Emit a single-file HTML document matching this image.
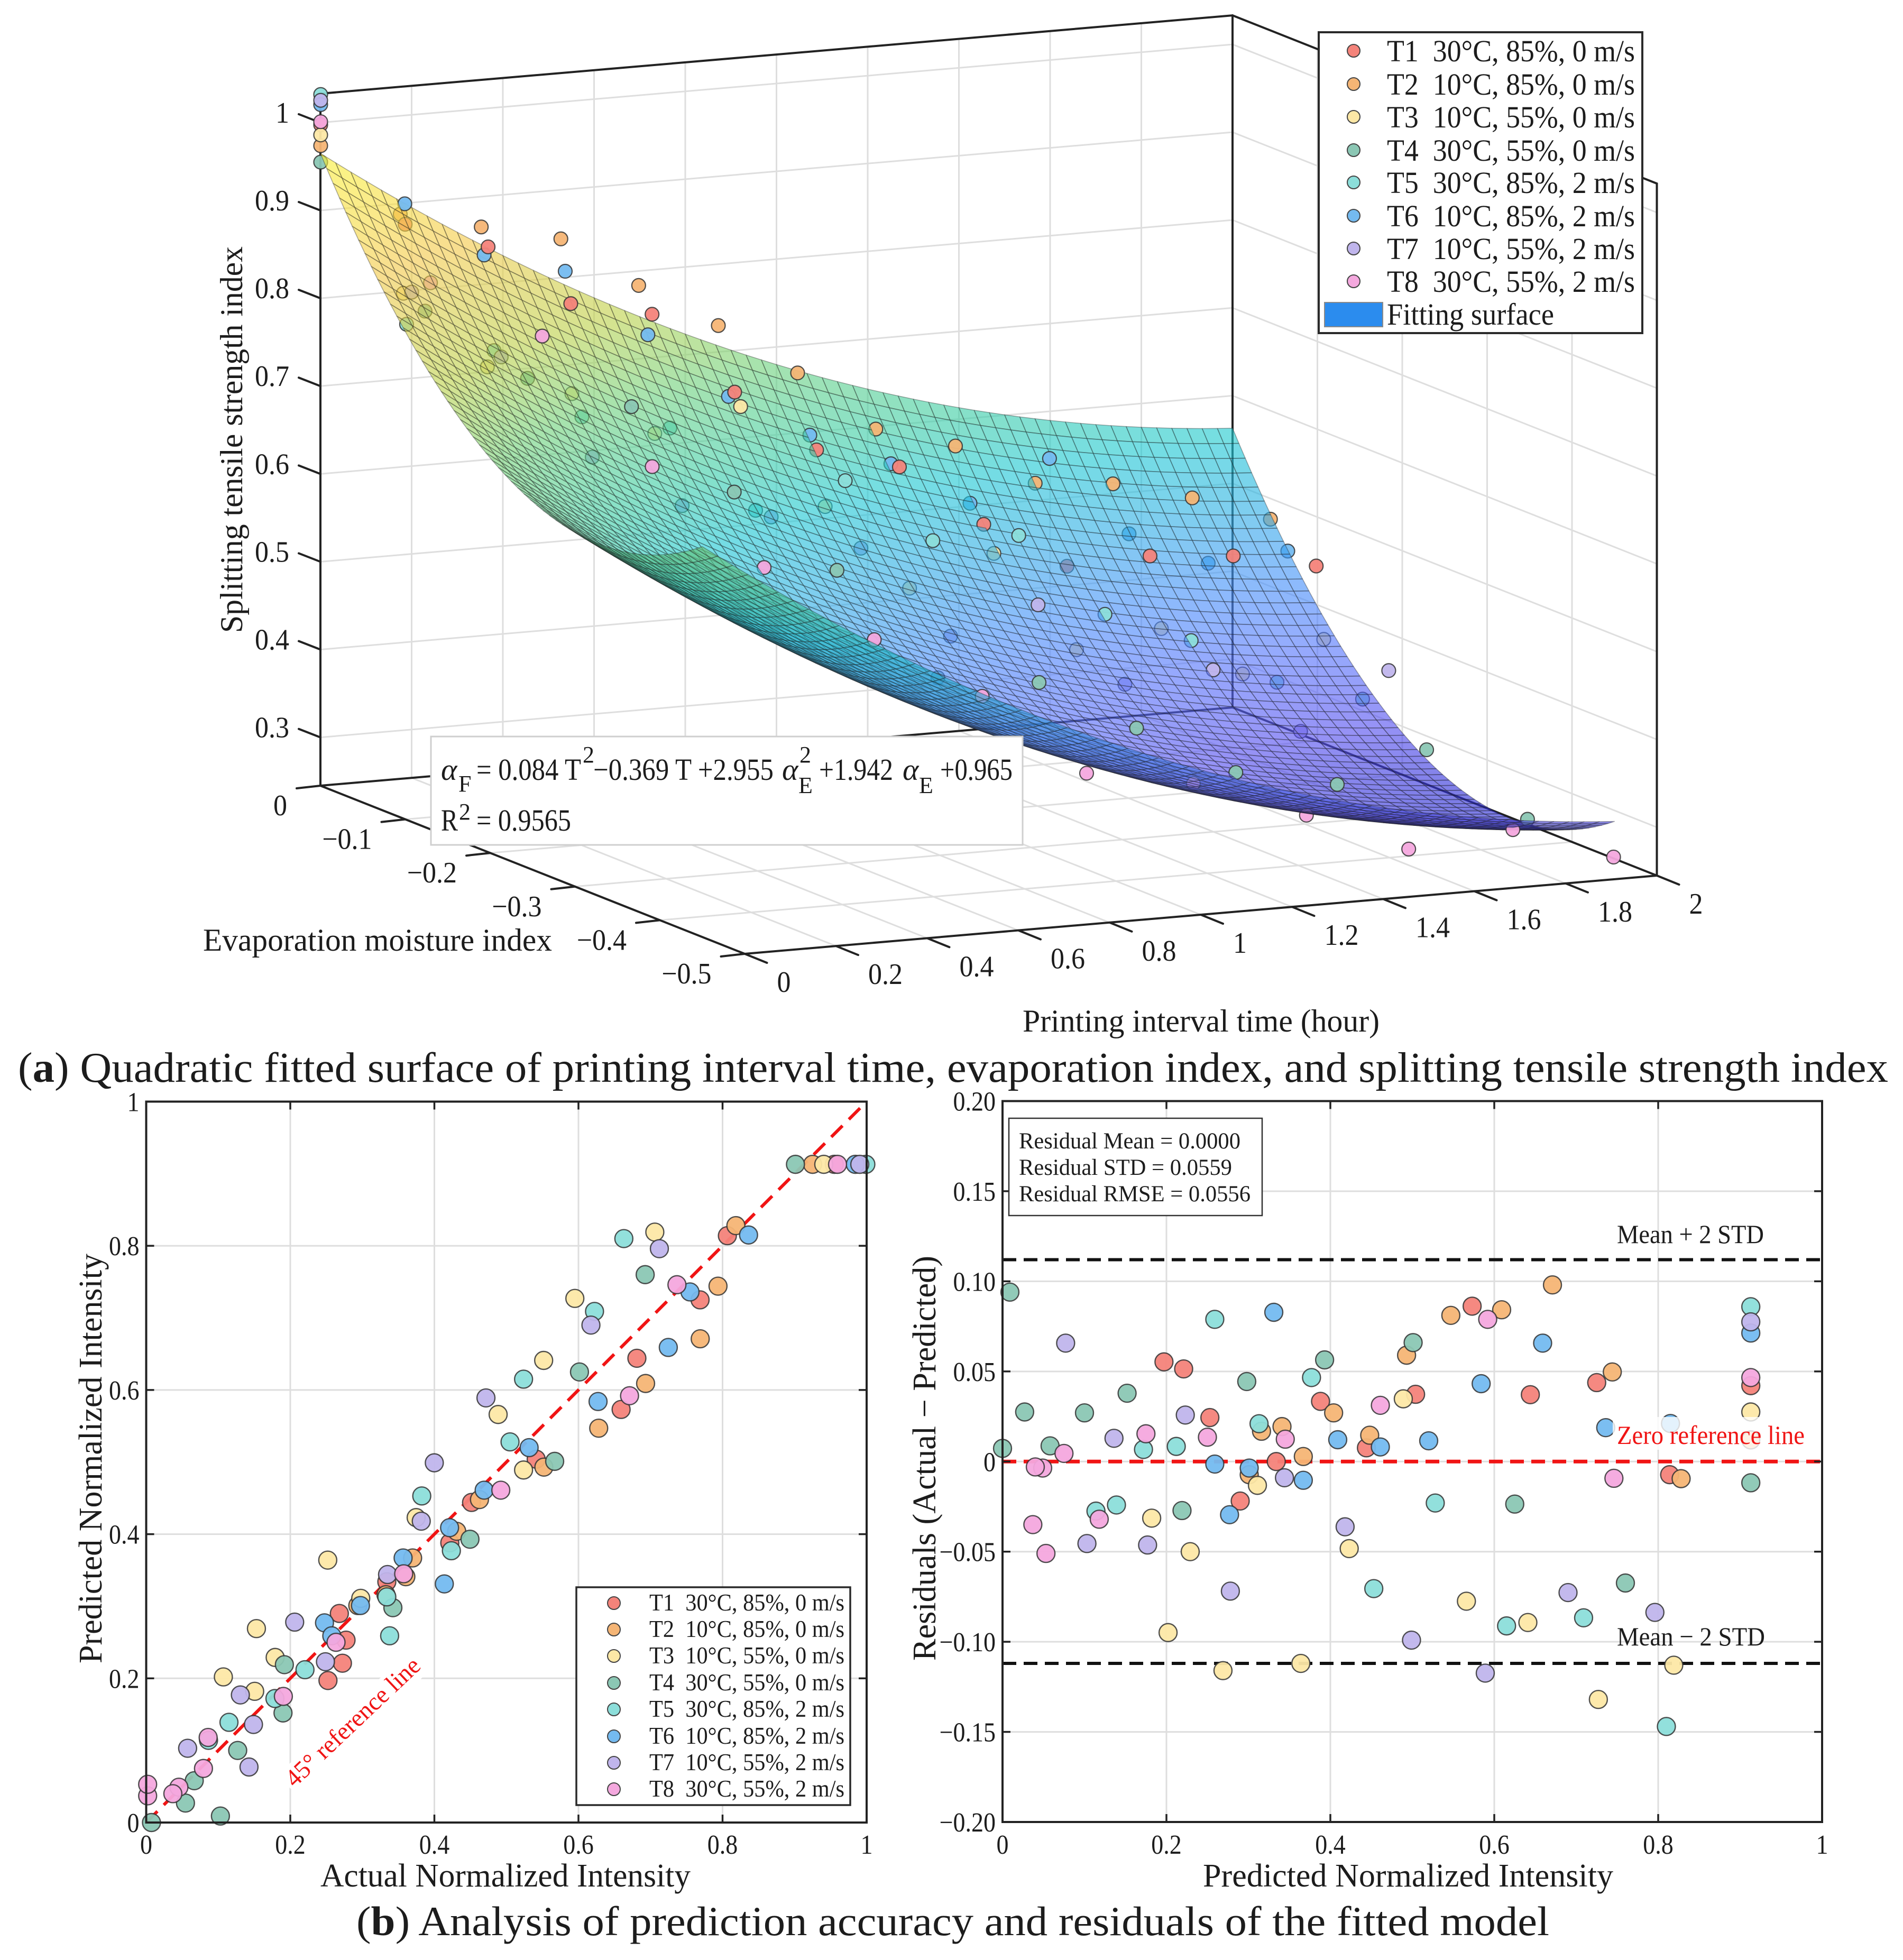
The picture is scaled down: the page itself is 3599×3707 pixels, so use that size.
<!DOCTYPE html>
<html lang="en">
<head>
<meta charset="utf-8">
<title>Quadratic fitted surface and residual analysis</title>
<style>
html,body{margin:0;padding:0;background:#fff;}
svg{display:block;font-family:"Liberation Serif","Times New Roman",serif;fill:#1c1c1c;}
</style>
</head>
<body>
<svg id="figure" xmlns="http://www.w3.org/2000/svg" width="3599" height="3707" viewBox="0 0 3599 3707">
  <rect x="0" y="0" width="3599" height="3707" fill="#fff"/>

  <g id="plot3d"></g>

  <g font-size="60">
    <text transform="translate(458,1197) rotate(-90)" textLength="731" lengthAdjust="spacingAndGlyphs">Splitting tensile strength index</text>
    <text x="384" y="1798" textLength="660" lengthAdjust="spacingAndGlyphs">Evaporation moisture index</text>
    <text x="1934" y="1951" textLength="675" lengthAdjust="spacingAndGlyphs">Printing interval time (hour)</text>
  </g>

  <g>
    <rect x="815" y="1393" width="1119" height="205" fill="#fff" stroke="#cfcfcf" stroke-width="3"/>
    <g font-size="58">
      <text x="834" y="1475" font-style="italic">α</text>
      <text x="867" y="1497" font-size="44">F</text>
      <text x="901" y="1475" textLength="198" lengthAdjust="spacingAndGlyphs">= 0.084 T</text>
      <text x="1102" y="1442" font-size="44">2</text>
      <text x="1122" y="1475" textLength="341" lengthAdjust="spacingAndGlyphs">−0.369 T +2.955</text>
      <text x="1479" y="1475" font-style="italic">α</text>
      <text x="1510" y="1500" font-size="44">E</text>
      <text x="1512" y="1442" font-size="44">2</text>
      <text x="1549" y="1475" textLength="140" lengthAdjust="spacingAndGlyphs">+1.942</text>
      <text x="1707" y="1475" font-style="italic">α</text>
      <text x="1738" y="1500" font-size="44">E</text>
      <text x="1778" y="1475" textLength="137" lengthAdjust="spacingAndGlyphs">+0.965</text>
      <text x="834" y="1571" textLength="32" lengthAdjust="spacingAndGlyphs">R</text>
      <text x="868" y="1550" font-size="44">2</text>
      <text x="901" y="1571" textLength="179" lengthAdjust="spacingAndGlyphs">= 0.9565</text>
    </g>
  </g>

  <g>
    <rect x="2494" y="61" width="612" height="569" fill="#fff" stroke="#2a2a2a" stroke-width="4"/>
    <g stroke="#444" stroke-width="2">
      <circle cx="2560" cy="96" r="12" fill="#f4837a"/>
      <circle cx="2560" cy="159" r="12" fill="#f5b575"/>
      <circle cx="2560" cy="221" r="12" fill="#fde8a6"/>
      <circle cx="2560" cy="284" r="12" fill="#8bc7b4"/>
      <circle cx="2560" cy="345" r="12" fill="#8cdeda"/>
      <circle cx="2560" cy="408" r="12" fill="#74baf0"/>
      <circle cx="2560" cy="470" r="12" fill="#c0b5ec"/>
      <circle cx="2560" cy="532" r="12" fill="#f4a8de"/>
    </g>
    <g font-size="58">
      <text x="2623" y="116" textLength="469" lengthAdjust="spacingAndGlyphs" xml:space="preserve">T1  30°C, 85%, 0 m/s</text>
      <text x="2623" y="179" textLength="469" lengthAdjust="spacingAndGlyphs" xml:space="preserve">T2  10°C, 85%, 0 m/s</text>
      <text x="2623" y="241" textLength="469" lengthAdjust="spacingAndGlyphs" xml:space="preserve">T3  10°C, 55%, 0 m/s</text>
      <text x="2623" y="304" textLength="469" lengthAdjust="spacingAndGlyphs" xml:space="preserve">T4  30°C, 55%, 0 m/s</text>
      <text x="2623" y="365" textLength="469" lengthAdjust="spacingAndGlyphs" xml:space="preserve">T5  30°C, 85%, 2 m/s</text>
      <text x="2623" y="428" textLength="469" lengthAdjust="spacingAndGlyphs" xml:space="preserve">T6  10°C, 85%, 2 m/s</text>
      <text x="2623" y="490" textLength="469" lengthAdjust="spacingAndGlyphs" xml:space="preserve">T7  10°C, 55%, 2 m/s</text>
      <text x="2623" y="552" textLength="469" lengthAdjust="spacingAndGlyphs" xml:space="preserve">T8  30°C, 55%, 2 m/s</text>
      <text x="2623" y="614" textLength="316" lengthAdjust="spacingAndGlyphs">Fitting surface</text>
    </g>
    <rect x="2505" y="572" width="110" height="46" fill="#2b8cee" stroke="#8a8a8a" stroke-width="2"/>
  </g>

  <text x="34" y="2046" font-size="80" textLength="3537" lengthAdjust="spacingAndGlyphs">(<tspan font-weight="bold">a</tspan>) Quadratic fitted surface of printing interval time, evaporation index, and splitting tensile strength index</text>

  <g id="plotB"></g>
  <g font-size="62">
    <text x="606" y="3558" textLength="700" lengthAdjust="spacingAndGlyphs" dy="10">Actual Normalized Intensity</text>
    <text transform="translate(192,3146) rotate(-90)" textLength="775" lengthAdjust="spacingAndGlyphs">Predicted Normalized Intensity</text>
  </g>
  <g transform="translate(557,3382) rotate(-43.4)">
    <rect x="-6" y="-40" width="344" height="54" fill="#fff"/>
    <text x="0" y="0" font-size="47" style="fill:#f01414" textLength="332" lengthAdjust="spacingAndGlyphs">45° reference line</text>
  </g>
  <g>
    <rect x="1090" y="3002" width="518" height="412" fill="#fff" stroke="#2a2a2a" stroke-width="3.5"/>
    <g stroke="#444" stroke-width="2">
      <circle cx="1161" cy="3032" r="12" fill="#f4837a"/>
      <circle cx="1161" cy="3082" r="12" fill="#f5b575"/>
      <circle cx="1161" cy="3132" r="12" fill="#fde8a6"/>
      <circle cx="1161" cy="3183" r="12" fill="#8bc7b4"/>
      <circle cx="1161" cy="3233" r="12" fill="#8cdeda"/>
      <circle cx="1161" cy="3284" r="12" fill="#74baf0"/>
      <circle cx="1161" cy="3334" r="12" fill="#c0b5ec"/>
      <circle cx="1161" cy="3384" r="12" fill="#f4a8de"/>
    </g>
    <g font-size="45">
      <text x="1228" y="3046" textLength="369" lengthAdjust="spacingAndGlyphs" xml:space="preserve">T1  30°C, 85%, 0 m/s</text>
      <text x="1228" y="3096" textLength="369" lengthAdjust="spacingAndGlyphs" xml:space="preserve">T2  10°C, 85%, 0 m/s</text>
      <text x="1228" y="3146" textLength="369" lengthAdjust="spacingAndGlyphs" xml:space="preserve">T3  10°C, 55%, 0 m/s</text>
      <text x="1228" y="3197" textLength="369" lengthAdjust="spacingAndGlyphs" xml:space="preserve">T4  30°C, 55%, 0 m/s</text>
      <text x="1228" y="3247" textLength="369" lengthAdjust="spacingAndGlyphs" xml:space="preserve">T5  30°C, 85%, 2 m/s</text>
      <text x="1228" y="3298" textLength="369" lengthAdjust="spacingAndGlyphs" xml:space="preserve">T6  10°C, 85%, 2 m/s</text>
      <text x="1228" y="3348" textLength="369" lengthAdjust="spacingAndGlyphs" xml:space="preserve">T7  10°C, 55%, 2 m/s</text>
      <text x="1228" y="3398" textLength="369" lengthAdjust="spacingAndGlyphs" xml:space="preserve">T8  30°C, 55%, 2 m/s</text>
    </g>
  </g>

  <g id="plotC"></g>
  <g font-size="62">
    <text x="2275" y="3568" textLength="776" lengthAdjust="spacingAndGlyphs">Predicted Normalized Intensity</text>
    <text transform="translate(1769,3141) rotate(-90)" textLength="766" lengthAdjust="spacingAndGlyphs">Residuals (Actual − Predicted)</text>
  </g>
  <g>
    <rect x="1908" y="2115" width="479" height="184" fill="#fff" stroke="#333" stroke-width="2.5"/>
    <g font-size="43">
      <text x="1927" y="2172" textLength="419" lengthAdjust="spacingAndGlyphs">Residual Mean = 0.0000</text>
      <text x="1927" y="2222" textLength="403" lengthAdjust="spacingAndGlyphs">Residual STD = 0.0559</text>
      <text x="1927" y="2272" textLength="438" lengthAdjust="spacingAndGlyphs">Residual RMSE = 0.0556</text>
    </g>
  </g>
  <text x="3058" y="2351" font-size="50" textLength="278" lengthAdjust="spacingAndGlyphs">Mean + 2 STD</text>
  <text x="3058" y="3112" font-size="50" textLength="280" lengthAdjust="spacingAndGlyphs">Mean − 2 STD</text>
  <rect x="3050" y="2680" width="370" height="62" fill="#fff" fill-opacity="0.8"/>
  <text x="3058" y="2731" font-size="50" style="fill:#f01414" textLength="355" lengthAdjust="spacingAndGlyphs">Zero reference line</text>

  <text x="674" y="3660" font-size="78" textLength="2256" lengthAdjust="spacingAndGlyphs">(<tspan font-weight="bold">b</tspan>) Analysis of prediction accuracy and residuals of the fitted model</text>
</svg>

<script>
// ---------- chart data ----------
const intervalHours = [0, 0.167, 0.333, 0.5, 0.667, 0.833, 1, 1.167, 1.333, 1.5, 1.667, 1.833, 2];
const seriesKeys = ['t1', 't2', 't3', 't4', 't5', 't6', 't7', 't8'];

const t1Pred = [0.913, 0.814, 0.725, 0.644, 0.573, 0.504, 0.444, 0.388, 0.334, 0.290, 0.253, 0.221, 0.197];
const t1Res = [0.0421, -0.0073, 0.0438, 0.0371, 0.0862, 0.0373, 0.0076, 0.0334, 0, -0.0219, 0.0244, 0.0514, 0.0553];
const t2Pred = [0.913, 0.828, 0.744, 0.671, 0.609, 0.547, 0.493, 0.448, 0.404, 0.367, 0.341, 0.316, 0.301];
const t2Res = [0.012, -0.0095, 0.0497, 0.098, 0.0842, 0.0811, 0.059, 0.0146, 0.027, 0.0028, 0.0194, 0.0168, -0.0073];
const t3Pred = [0.913, 0.819, 0.727, 0.641, 0.566, 0.489, 0.423, 0.364, 0.311, 0.269, 0.229, 0.202, 0.182];
const t3Res = [0.0275, -0.113, -0.132, -0.0893, -0.0775, 0.0348, -0.0483, -0.112, -0.0132, -0.116, -0.05, -0.0949, -0.0314];
const t4Pred = [0.913, 0.76, 0.625, 0.501, 0.393, 0.298, 0.219, 0.152, 0.1, 0.058, 0.027, 0.009, 0];
const t4Res = [-0.0118, -0.0674, -0.0236, 0.066, 0.0564, 0.0444, -0.0272, 0.0379, 0.027, 0.0087, 0.0275, 0.094, 0.0073];
const t5Pred = [0.913, 0.81, 0.709, 0.615, 0.528, 0.453, 0.377, 0.313, 0.259, 0.212, 0.172, 0.139, 0.114];
const t5Res = [0.0859, -0.147, -0.0867, -0.0912, -0.023, -0.0705, 0.0466, 0.021, 0.0789, 0.0084, 0.0067, -0.0241, -0.0275];
const t6Pred = [0.913, 0.815, 0.736, 0.659, 0.584, 0.52, 0.461, 0.409, 0.367, 0.331, 0.301, 0.277, 0.259];
const t6Res = [0.0713, 0.0211, 0.0188, 0.0657, 0.0432, 0.0115, 0.0081, 0.0121, -0.0104, 0.0828, -0.0036, -0.0295, -0.0014];
const t7Pred = [0.913, 0.796, 0.69, 0.589, 0.499, 0.418, 0.344, 0.278, 0.223, 0.177, 0.136, 0.103, 0.077];
const t7Res = [0.0775, -0.0837, -0.0727, -0.1174, -0.0991, -0.0362, -0.009, -0.0719, 0.0258, -0.0463, 0.0129, -0.0455, 0.0657];
const t8Pred = [0.913, 0.746, 0.592, 0.461, 0.345, 0.25, 0.175, 0.118, 0.075, 0.049, 0.037, 0.04, 0.053];
const t8Res = [0.0466, -0.0093, 0.0789, 0.0312, 0.0124, 0.0135, 0.0154, -0.032, 0.0045, -0.0036, -0.035, -0.003, -0.051];

// index within each series where evaporation has passed the fit's valley
const pastValleyFrom = [13, 13, 13, 12, 13, 13, 13, 9];

const fitCoefficients = [0.084, -0.369, 2.955, 1.942, 0.965];
const intensityRange = [0.245, 1.033];

const timeTicks = [0, 0.2, 0.4, 0.6, 0.8, 1, 1.2, 1.4, 1.6, 1.8, 2];
const timeTickLabels = ['0', '0.2', '0.4', '0.6', '0.8', '1', '1.2', '1.4', '1.6', '1.8', '2'];
const evapTicks = [0, -0.1, -0.2, -0.3, -0.4, -0.5];
const evapTickLabels = ['0', '−0.1', '−0.2', '−0.3', '−0.4', '−0.5'];
const strengthTicks = [0.3, 0.4, 0.5, 0.6, 0.7, 0.8, 0.9, 1];
const strengthTickLabels = ['0.3', '0.4', '0.5', '0.6', '0.7', '0.8', '0.9', '1'];
const unitTicks = [0, 0.2, 0.4, 0.6, 0.8, 1];
const unitTickLabels = ['0', '0.2', '0.4', '0.6', '0.8', '1'];
const residualTicks = [-0.2, -0.15, -0.1, -0.05, 0, 0.05, 0.1, 0.15, 0.2];
const residualTickLabels = ['−0.20', '−0.15', '−0.10', '−0.05', '0', '0.05', '0.10', '0.15', '0.20'];
const residualLimit = [0.112];

// ---------- styling ----------
const allPred = [t1Pred, t2Pred, t3Pred, t4Pred, t5Pred, t6Pred, t7Pred, t8Pred];
const allRes = [t1Res, t2Res, t3Res, t4Res, t5Res, t6Res, t7Res, t8Res];
const seriesFill = ['#f4837a', '#f5b575', '#fde8a6', '#8bc7b4', '#8cdeda', '#74baf0', '#c0b5ec', '#f4a8de'];
const NS = 'http://www.w3.org/2000/svg';
function add(tag, attrs, parent) {
  const el = document.createElementNS(NS, tag);
  for (const k in attrs) el.setAttribute(k, attrs[k]);
  parent.appendChild(el);
  return el;
}
function labelWidth(str, em) {
  let w = 0;
  for (const ch of str) w += ch === '.' ? 0.25 : ch === '−' ? 0.564 : 0.5;
  return (w * em).toFixed(1);
}
const GRID = '#dedede';
const AXIS = '#222';

// ---------- 3D projection ----------
const zBase = intensityRange[0], zTop = intensityRange[1];
function project(t, e, z) {
  return [606 + 862.5 * t + 1605 * (-e), 1486 - 74 * t + 636 * (-e) - 1661 * (z - zBase)];
}
function fitValue(t, e) {
  const c = fitCoefficients;
  return c[0] * t * t + c[1] * t + c[2] * e * e + c[3] * e + c[4];
}
function zFromNormalized(n) { return zBase + (zTop - zBase) * n; }
function evapFromFit(t, pred, past) {
  const c = fitCoefficients;
  const rest = c[0] * t * t + c[1] * t + c[4] - zFromNormalized(pred);
  const disc = Math.max(0, c[3] * c[3] - 4 * c[2] * rest);
  const root = Math.sqrt(disc);
  return (-c[3] + (past ? -root : root)) / (2 * c[2]);
}
const colorZ = [0.25, 0.3, 0.36, 0.42, 0.48, 0.55, 0.6, 0.68, 0.75, 0.85, 0.965];
const colorRGB = [[45,45,215],[86,80,240],[86,116,252],[70,144,250],[50,172,232],[30,200,212],[58,205,170],[112,210,125],[188,210,75],[244,202,75],[250,243,55]];
function surfaceColor(z, k) {
  let i = 0;
  while (i < colorZ.length - 2 && z > colorZ[i + 1]) i++;
  const f = Math.max(0, Math.min(1, (z - colorZ[i]) / (colorZ[i + 1] - colorZ[i])));
  const a = colorRGB[i], b = colorRGB[i + 1];
  return 'rgb(' + [0, 1, 2].map(n => Math.round((a[n] + (b[n] - a[n]) * f) * k)).join(',') + ')';
}

// ---------- 3D plot ----------
(function drawSurfacePlot() {
  const root = document.getElementById('plot3d');
  const seg = (a, b, color, w, parent) => add('line', { x1: a[0], y1: a[1], x2: b[0], y2: b[1], stroke: color, 'stroke-width': w, 'stroke-linecap': 'round' }, parent);

  const gridG = add('g', {}, root);
  
  
  timeTicks.forEach(t => {
    const a = seg(project(t, 0, zBase), project(t, 0, zTop), GRID, 3, gridG);
    
    
    const b = seg(project(t, 0, zBase), project(t, -0.5, zBase), GRID, 3, gridG);
    
    
  });
  evapTicks.forEach(e => {
    const a = seg(project(2, e, zBase), project(2, e, zTop), GRID, 3, gridG);
    
    
    const b = seg(project(0, e, zBase), project(2, e, zBase), GRID, 3, gridG);
    
    
  });
  strengthTicks.forEach(z => {
    const a = seg(project(0, 0, z), project(2, 0, z), GRID, 3, gridG);
    
    
    const b = seg(project(2, 0, z), project(2, -0.5, z), GRID, 3, gridG);
    
    
  });

  const axisG = add('g', {}, root);
  
  
  const edges = [
    [[0, 0, zBase], [0, 0, zTop]], [[0, 0, zTop], [2, 0, zTop]], [[2, 0, zTop], [2, -0.5, zTop]],
    [[2, -0.5, zTop], [2, -0.5, zBase]], [[2, 0, zBase], [2, 0, zTop]], [[0, 0, zBase], [2, 0, zBase]],
    [[2, 0, zBase], [2, -0.5, zBase]], [[0, -0.5, zBase], [2, -0.5, zBase]], [[0, 0, zBase], [0, -0.5, zBase]]
  ];
  edges.forEach(pair => {
    const l = seg(project.apply(null, pair[0]), project.apply(null, pair[1]), AXIS, 4, axisG);
    
    
  });

  const tickG = add('g', { 'font-size': 56 }, root);
  
  
  strengthTicks.forEach((z, i) => {
    const p = project(0, 0, z);
    const t = seg(p, [p[0] - 41, p[1] - 16], AXIS, 4, tickG);
    
    
    const lab = add('text', { x: p[0] - 59, y: p[1], 'text-anchor': 'end', textLength: labelWidth(strengthTickLabels[i], 52), lengthAdjust: 'spacingAndGlyphs' }, tickG);
    lab.textContent = strengthTickLabels[i];
    
    
  });
  evapTicks.forEach((e, i) => {
    const p = project(0, e, zBase);
    const t = seg(p, [p[0] - 45, p[1] + 5], AXIS, 4, tickG);
    
    
    const lab = add('text', { x: p[0] - 63, y: p[1] + 56, 'text-anchor': 'end', textLength: labelWidth(evapTickLabels[i], 52), lengthAdjust: 'spacingAndGlyphs' }, tickG);
    lab.textContent = evapTickLabels[i];
    
    
  });
  timeTicks.forEach((t0, i) => {
    const p = project(t0, -0.5, zBase);
    const t = seg(p, [p[0] + 42, p[1] + 17], AXIS, 4, tickG);
    
    
    const lab = add('text', { x: p[0] + 61, y: p[1] + 72, textLength: labelWidth(timeTickLabels[i], 52), lengthAdjust: 'spacingAndGlyphs' }, tickG);
    lab.textContent = timeTickLabels[i];
    
    
  });

  // place each observation in the surface cell it belongs to, so the surface occludes it correctly
  const nT = 60, nE = 60, eMax = 0.45;
  const dT = 2 / nT, dE = eMax / nE;
  const buckets = {};
  seriesKeys.forEach((key, s) => {
    intervalHours.forEach((t, k) => {
      const pred = allPred[s][k], res = allRes[s][k];
      const e = evapFromFit(t, pred, k >= pastValleyFrom[s]);
      const i = Math.max(0, Math.min(nT - 1, Math.floor(t / dT)));
      const j = Math.max(0, Math.min(nE - 1, Math.floor(-e / dE)));
      const id = i * 1000 + j;
      (buckets[id] = buckets[id] || []).push({ s: s, key: key, t: t, e: e, z: zFromNormalized(pred + res), below: res < 0 });
    });
  });
  function drawPoint(pt, parent) {
    const p = project(pt.t, pt.e, pt.z);
    const c = add('circle', { cx: p[0], cy: p[1], r: 13, fill: seriesFill[pt.s], 'fill-opacity': 0.95, stroke: '#333', 'stroke-opacity': 0.85, 'stroke-width': 2.2 }, parent);
    
    
  }

  const surf = add('g', { stroke: '#1e1e1e', 'stroke-opacity': 0.36, 'stroke-width': 1.6, 'stroke-linejoin': 'round' }, root);
  
  
  for (let i = nT - 1; i >= 0; i--) {
    for (let j = 0; j < nE; j++) {
      const t0 = i * dT, t1 = (i + 1) * dT, e0 = -j * dE, e1 = -(j + 1) * dE;
      const corners = [[t0, e0], [t1, e0], [t1, e1], [t0, e1]].map(q => project(q[0], q[1], fitValue(q[0], q[1])));
      let area = 0;
      corners.forEach((a, n) => { const b = corners[(n + 1) % 4]; area += a[0] * b[1] - b[0] * a[1]; });
      const zMid = fitValue((t0 + t1) / 2, (e0 + e1) / 2);
      const bucket = buckets[i * 1000 + j] || [];
      bucket.filter(pt => pt.below).forEach(pt => drawPoint(pt, surf));
      const quad = add('polygon', {
        points: corners.map(c => c[0].toFixed(1) + ',' + c[1].toFixed(1)).join(' '),
        fill: surfaceColor(zMid, area > 0 ? 1 : 0.92),
        'fill-opacity': 0.62
      }, surf);
      
      
      bucket.filter(pt => !pt.below).forEach(pt => drawPoint(pt, surf));
    }
  }
})();

// ---------- 2D plots ----------
function draw2D(opts) {
  const root = document.getElementById(opts.id);
  const sx = v => opts.x0 + (v - opts.xMin) / (opts.xMax - opts.xMin) * (opts.x1 - opts.x0);
  const sy = v => opts.y0 - (v - opts.yMin) / (opts.yMax - opts.yMin) * (opts.y0 - opts.y1);

  const gridG = add('g', { stroke: GRID, 'stroke-width': 3 }, root);
  
  
  opts.xTicks.forEach(v => {
    const l = add('line', { x1: sx(v), x2: sx(v), y1: opts.y0, y2: opts.y1 }, gridG);
    
    
  });
  opts.yTicks.forEach(v => {
    const l = add('line', { x1: opts.x0, x2: opts.x1, y1: sy(v), y2: sy(v) }, gridG);
    
    
  });

  opts.refs(root, sx, sy);

  const pts = add('g', {}, root);
  
  
  seriesKeys.forEach((key, s) => {
    allPred[s].forEach((pred, k) => {
      const v = opts.value(pred, allRes[s][k]);
      const c = add('circle', { cx: sx(v[0]), cy: sy(v[1]), r: 17, fill: seriesFill[s], 'fill-opacity': 0.95, stroke: '#333', 'stroke-opacity': 0.85, 'stroke-width': 2.4 }, pts);
      
      
    });
  });

  const frame = add('rect', { x: opts.x0, y: opts.y1, width: opts.x1 - opts.x0, height: opts.y0 - opts.y1, fill: 'none', stroke: AXIS, 'stroke-width': 4 }, root);
  
  

  const tickG = add('g', { stroke: AXIS, 'stroke-width': 3.5 }, root);
  
  
  const labelG = add('g', { 'font-size': 52 }, root);
  
  
  opts.xTicks.forEach((v, i) => {
    const a = add('line', { x1: sx(v), x2: sx(v), y1: opts.y0, y2: opts.y0 - 15 }, tickG);
    
    
    const b = add('line', { x1: sx(v), x2: sx(v), y1: opts.y1, y2: opts.y1 + 15 }, tickG);
    
    
    const t = add('text', { x: sx(v), y: 3506, 'text-anchor': 'middle', textLength: labelWidth(opts.xLabels[i], 46), lengthAdjust: 'spacingAndGlyphs' }, labelG);
    t.textContent = opts.xLabels[i];
    
    
  });
  opts.yTicks.forEach((v, i) => {
    const a = add('line', { x1: opts.x0, x2: opts.x0 + 15, y1: sy(v), y2: sy(v) }, tickG);
    
    
    const b = add('line', { x1: opts.x1, x2: opts.x1 - 15, y1: sy(v), y2: sy(v) }, tickG);
    
    
    const t = add('text', { x: opts.x0 - 13, y: sy(v) + 18, 'text-anchor': 'end', textLength: labelWidth(opts.yLabels[i], 46), lengthAdjust: 'spacingAndGlyphs' }, labelG);
    t.textContent = opts.yLabels[i];
    
    
  });
}

draw2D({
  id: 'plotB', prefix: 'prediction',
  x0: 276.5, x1: 1639, y0: 3447, y1: 2083.5,
  xMin: 0, xMax: 1, yMin: 0, yMax: 1,
  xTicks: unitTicks, xLabels: unitTickLabels, yTicks: unitTicks, yLabels: unitTickLabels,
  value: (pred, res) => [pred + res, pred],
  refs: function (root, sx, sy) {
    const l = add('line', { x1: sx(0), y1: sy(0), x2: sx(1), y2: sy(1), stroke: '#f01414', 'stroke-width': 6, 'stroke-dasharray': '30 17' }, root);
    
    
  }
});

draw2D({
  id: 'plotC', prefix: 'residual',
  x0: 1896, x1: 3446, y0: 3446, y1: 2082.5,
  xMin: 0, xMax: 1, yMin: -0.2, yMax: 0.2,
  xTicks: unitTicks, xLabels: unitTickLabels, yTicks: residualTicks, yLabels: residualTickLabels,
  value: (pred, res) => [pred, res],
  refs: function (root, sx, sy) {
    const up = add('line', { x1: sx(0), x2: sx(1), y1: sy(residualLimit[0]), y2: sy(residualLimit[0]), stroke: '#111', 'stroke-width': 6, 'stroke-dasharray': '26 14' }, root);
    
    
    const lo = add('line', { x1: sx(0), x2: sx(1), y1: sy(-residualLimit[0]), y2: sy(-residualLimit[0]), stroke: '#111', 'stroke-width': 6, 'stroke-dasharray': '26 14' }, root);
    
    
    const z = add('line', { x1: sx(0), x2: sx(1), y1: sy(0), y2: sy(0), stroke: '#f01414', 'stroke-width': 7, 'stroke-dasharray': '26 14' }, root);
    
    
  }
});
</script>
</body>
</html>
